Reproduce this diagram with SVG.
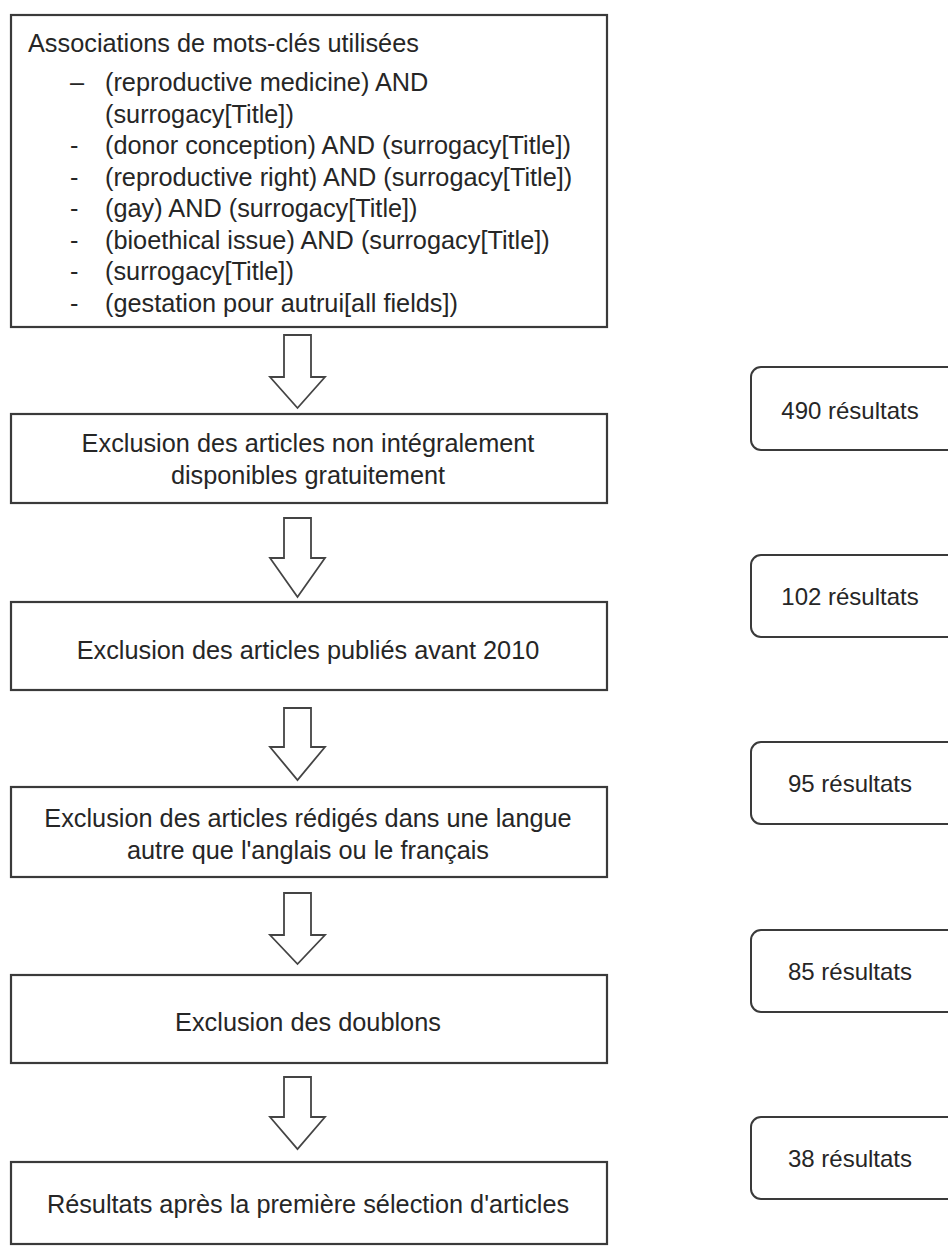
<svg xmlns="http://www.w3.org/2000/svg" width="948" height="1248" viewBox="0 0 948 1248">
<style>
text{font-family:"Liberation Sans",Arial,sans-serif;font-size:25.3px;fill:#262626}
.c{text-anchor:middle}
.r{font-size:24px}
.box{fill:#fff;stroke:#3a3a3a;stroke-width:2.2}
.res{fill:#fff;stroke:#3a3a3a;stroke-width:2}
.arr{fill:#fff;stroke:#444;stroke-width:1.8;stroke-linejoin:miter}
</style>
<rect width="948" height="1248" fill="#fff"/>
<g id="keywords">
<rect class="box" x="11" y="15" width="596" height="312"/>
<text x="28" y="52">Associations de mots-clés utilisées</text>
<text x="70" y="91">–</text>
<text x="105" y="91">(reproductive medicine) AND</text>
<text x="105" y="122.5">(surrogacy[Title])</text>
<text x="70" y="154">-</text>
<text x="105" y="154">(donor conception) AND (surrogacy[Title])</text>
<text x="70" y="185.5">-</text>
<text x="105" y="185.5">(reproductive right) AND (surrogacy[Title])</text>
<text x="70" y="217">-</text>
<text x="105" y="217">(gay) AND (surrogacy[Title])</text>
<text x="70" y="248.5">-</text>
<text x="105" y="248.5">(bioethical issue) AND (surrogacy[Title])</text>
<text x="70" y="280">-</text>
<text x="105" y="280">(surrogacy[Title])</text>
<text x="70" y="311.5">-</text>
<text x="105" y="311.5">(gestation pour autrui[all fields])</text>
</g>
<g id="step1">
<rect class="box" x="11" y="414" width="596" height="89"/>
<text class="c" x="308" y="452">Exclusion des articles non intégralement</text>
<text class="c" x="308" y="484">disponibles gratuitement</text>
</g>
<g id="step2">
<rect class="box" x="11" y="602" width="596" height="88"/>
<text class="c" x="308" y="659">Exclusion des articles publiés avant 2010</text>
</g>
<g id="step3">
<rect class="box" x="11" y="787" width="596" height="90"/>
<text class="c" x="308" y="827">Exclusion des articles rédigés dans une langue</text>
<text class="c" x="308" y="859">autre que l'anglais ou le français</text>
</g>
<g id="step4">
<rect class="box" x="11" y="975" width="596" height="88"/>
<text class="c" x="308" y="1031">Exclusion des doublons</text>
</g>
<g id="step5">
<rect class="box" x="11" y="1162" width="596" height="82"/>
<text class="c" x="308" y="1213">Résultats après la première sélection d'articles</text>
</g>
<g id="r490">
<rect class="res" x="751" y="367" width="215" height="83" rx="10"/>
<text class="c r" x="850" y="419">490 résultats</text>
</g>
<g id="r102">
<rect class="res" x="751" y="555" width="215" height="82" rx="10"/>
<text class="c r" x="850" y="605">102 résultats</text>
</g>
<g id="r95">
<rect class="res" x="751" y="742" width="215" height="82" rx="10"/>
<text class="c r" x="850" y="792">95 résultats</text>
</g>
<g id="r85">
<rect class="res" x="751" y="930" width="215" height="82" rx="10"/>
<text class="c r" x="850" y="980">85 résultats</text>
</g>
<g id="r38">
<rect class="res" x="751" y="1117" width="215" height="82" rx="10"/>
<text class="c r" x="850" y="1167">38 résultats</text>
</g>
<g id="connectors">
<polygon class="arr" points="284,335 311,335 311,377 325,377 297.5,408 270,377 284,377"/>
<polygon class="arr" points="284,518 311,518 311,558 325,558 297.5,597 270,558 284,558"/>
<polygon class="arr" points="284,708 311,708 311,747 325,747 297.5,780 270,747 284,747"/>
<polygon class="arr" points="284,893 311,893 311,935 325,935 297.5,964 270,935 284,935"/>
<polygon class="arr" points="284,1077 311,1077 311,1117 325,1117 297.5,1149 270,1117 284,1117"/>
</g>
</svg>
